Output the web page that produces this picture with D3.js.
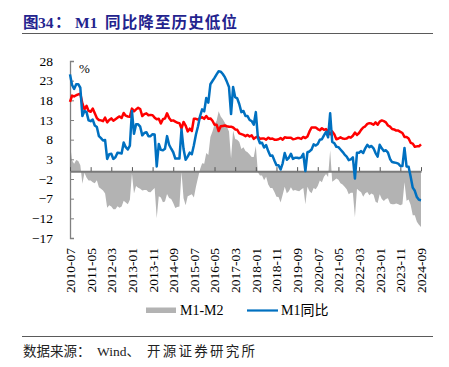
<!DOCTYPE html>
<html><head><meta charset="utf-8">
<script src="https://cdn.jsdelivr.net/npm/d3@7"></script>
<style>
body{margin:0;background:#fff;}
svg{display:block;}
</style></head>
<body>
<svg id="c" width="449" height="367"></svg>
<script>
// ---- data (monthly, 2010-07 .. 2024-09) ----
const m1YoY = [
24.6,21.9,20.9,22.1,22.1,21.2,
14.0,15.3,15.0,12.9,12.7,13.1,11.6,11.2,8.9,8.4,7.8,7.9,
3.1,4.3,4.4,3.1,3.5,4.7,4.6,4.5,7.3,6.1,5.5,6.5,
15.3,9.5,11.9,11.9,11.3,9.1,9.7,9.9,8.9,8.9,9.4,9.3,
1.2,6.9,5.4,5.3,5.7,8.9,6.7,5.7,4.8,3.2,3.2,3.2,
10.6,5.6,2.9,3.7,4.7,4.3,6.6,9.3,11.4,14.0,15.7,15.2,
18.6,17.4,22.1,22.9,23.7,24.6,25.4,25.3,24.7,23.9,22.7,21.4,
14.5,21.4,18.8,18.5,17.0,15.0,15.3,14.0,14.0,13.0,12.7,11.8,
15.0,8.5,7.1,7.2,6.0,6.6,5.1,3.9,4.0,2.7,1.5,1.5,
0.4,2.0,4.6,2.9,3.4,4.4,3.1,3.4,3.4,3.3,3.5,4.4,
0.0,4.8,5.0,5.5,6.8,6.5,6.9,8.0,8.1,9.1,10.0,8.6,
14.7,7.4,7.1,6.2,6.1,5.5,4.9,4.2,3.7,2.8,3.0,3.5,
-1.9,4.7,4.7,5.1,4.6,5.8,6.7,6.1,6.4,5.8,4.6,3.7,
6.7,5.8,5.1,5.3,4.7,3.1,2.3,2.2,2.1,1.9,1.3,1.3,
5.9,1.2,1.1,-1.4,-4.2,-5.0,-6.6,-7.3,-7.4
];
const m2YoY = [
17.6,19.2,19.0,19.3,19.5,19.7,
17.2,15.7,16.6,15.3,15.1,15.9,14.7,13.5,13.0,12.9,12.7,13.6,
12.4,13.0,13.4,12.8,13.2,13.6,13.9,13.5,14.8,14.1,13.9,13.8,
15.9,15.2,15.7,16.1,15.8,14.0,14.5,14.7,14.2,14.3,14.2,13.6,
13.2,13.3,12.1,13.2,13.4,14.7,13.5,12.8,12.9,12.6,12.3,12.2,
10.8,12.5,11.6,10.1,10.8,10.2,13.3,13.3,13.1,13.5,13.7,13.3,
14.0,13.3,13.4,12.8,11.8,11.8,10.2,11.4,11.5,11.6,11.4,11.3,
11.3,11.1,10.6,10.5,9.6,9.4,9.2,8.9,9.2,8.8,9.1,8.2,
8.6,8.8,8.2,8.3,8.3,8.0,8.5,8.2,8.3,8.0,8.0,8.1,
8.4,8.0,8.6,8.5,8.5,8.5,8.1,8.2,8.4,8.4,8.2,8.7,
8.4,8.8,10.1,11.1,11.1,11.1,10.7,10.4,10.9,10.5,10.7,10.1,
9.4,10.1,9.4,8.1,8.3,8.6,8.3,8.2,8.3,8.7,8.5,9.0,
9.8,9.2,9.7,10.5,11.1,11.4,12.0,12.2,12.1,11.8,12.4,11.8,
12.6,12.9,12.7,12.4,11.6,11.3,10.7,10.6,10.3,10.3,10.0,9.7,
8.7,8.7,8.3,7.2,7.0,6.2,6.3,6.3,6.8
];
const xTickLabels = ["2010-07","2011-05","2012-03","2013-01","2013-11","2014-09","2015-07","2016-05","2017-03","2018-01","2018-11","2019-09","2020-07","2021-05","2022-03","2023-01","2023-11","2024-09"];
const yTicks = [28,23,18,13,8,3,-2,-7,-12,-17];
const seriesNames = ["M1-M2","M1同比"];

const fmt = d3.timeFormat("%Y-%m");
const months = d3.timeMonth.range(new Date(2010,6,1), new Date(2024,9,1)).map(fmt);
const idx = d3.range(months.length);

const svg = d3.select("#c");
const serif = "'Liberation Serif','Times New Roman','Noto Sans CJK SC',serif";

const x = d3.scalePoint().domain(months).range([70, 421]);
const y = d3.scaleLinear().domain([-17, 28]).range([238, 61]);

// title
const t = svg.append("text").attr("y", 27.5).attr("fill", "#23238e")
  .attr("font-family", serif).attr("font-weight", "bold").attr("font-size", 15.5);
t.append("tspan").attr("x", 23).text("图");
t.append("tspan").attr("x", 38).text("34");
t.append("tspan").attr("x", 55).text("：");
t.append("tspan").attr("x", 75).text("M1");
t.append("tspan").attr("x", 105).attr("textLength", 132).attr("lengthAdjust","spacing").text("同比降至历史低位");
svg.append("line").attr("x1", 22).attr("x2", 433).attr("y1", 33.5).attr("y2", 33.5)
  .attr("stroke", "#5a5a5a").attr("stroke-width", 1);

// area M1-M2
svg.append("path")
  .attr("d", d3.area().x(i => x(months[i])).y0(y(0)).y1(i => y(m1YoY[i] - m2YoY[i]))(idx))
  .attr("fill", "#b3b3b3");

// y axis
const ya = svg.append("g").attr("transform", "translate(70,0)")
  .call(d3.axisLeft(y).tickValues(yTicks).tickSize(-4).tickPadding(17).tickFormat(d3.format("d")));
ya.select(".domain").attr("stroke", "#808080").attr("stroke-width", 1.3);
ya.selectAll(".tick line").attr("stroke", "#808080");
ya.selectAll("text").attr("font-family", serif).attr("font-size", 13.5).attr("fill", "#000");

// x zero axis
const xa = svg.append("g").attr("transform", `translate(0,${y(0)})`)
  .call(d3.axisBottom(x).tickValues(xTickLabels).tickSize(-4).tickSizeOuter(0).tickFormat(""));
xa.select(".domain").attr("stroke", "#7a7a7a").attr("stroke-width", 2);
xa.selectAll(".tick line").attr("stroke", "#555");

// x labels
const xl = svg.append("g").attr("transform", "translate(0,248)")
  .call(d3.axisBottom(x).tickValues(xTickLabels).tickSize(0));
xl.select(".domain").remove();
xl.selectAll("text").attr("transform", "rotate(-90)").attr("x", 0).attr("y", 0)
  .attr("dy", "0.33em").style("text-anchor", "end")
  .attr("font-family", serif).attr("font-size", 13.5).attr("fill", "#000");

// lines
svg.append("path").attr("d", d3.line().x(i => x(months[i])).y(i => y(m2YoY[i]))(idx))
  .attr("fill", "none").attr("stroke", "#ff0000").attr("stroke-width", 2.5).attr("stroke-linejoin", "round");
svg.append("path").attr("d", d3.line().x(i => x(months[i])).y(i => y(m1YoY[i]))(idx))
  .attr("fill", "none").attr("stroke", "#0070c0").attr("stroke-width", 2.5).attr("stroke-linejoin", "round");

// % label
svg.append("text").attr("x", 79).attr("y", 73).text("%")
  .attr("font-family", serif).attr("font-size", 13).attr("fill", "#000");

// legend
svg.append("rect").attr("x", 146).attr("y", 307.5).attr("width", 30).attr("height", 5.5).attr("fill", "#b3b3b3");
svg.append("text").attr("x", 180).attr("y", 315).text(seriesNames[0])
  .attr("font-family", serif).attr("font-size", 14).attr("fill", "#000");
svg.append("line").attr("x1", 247).attr("x2", 278).attr("y1", 310.5).attr("y2", 310.5)
  .attr("stroke", "#0070c0").attr("stroke-width", 2.2);
svg.append("text").attr("x", 281).attr("y", 315).text(seriesNames[1])
  .attr("font-family", serif).attr("font-size", 14).attr("fill", "#000");

// source
svg.append("line").attr("x1", 22).attr("x2", 433).attr("y1", 336.5).attr("y2", 336.5)
  .attr("stroke", "#5a5a5a").attr("stroke-width", 1);
const s = svg.append("text").attr("y", 356).attr("font-family", serif).attr("font-size", 13.5).attr("fill", "#222");
s.append("tspan").attr("x", 23).text("数据来源：");
s.append("tspan").attr("x", 97).text("Wind、");
s.append("tspan").attr("x", 147).attr("textLength", 108).attr("lengthAdjust","spacing").text("开源证券研究所");
</script>
</body></html>
